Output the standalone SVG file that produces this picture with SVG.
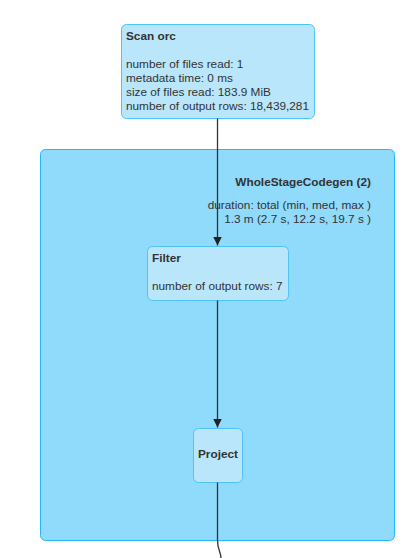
<svg xmlns="http://www.w3.org/2000/svg" width="403" height="558" viewBox="0 0 403 558">
<style>
.node rect{fill:#b9e6fb;stroke:#4fc3f7;stroke-width:1}
.cluster rect{fill:#90dafb;stroke:#29b6f6;stroke-width:1}
text{font-family:"Liberation Sans",Arial,sans-serif;font-size:11.8px;fill:#333}
.b{font-weight:bold}
.edge{fill:none;stroke:#333;stroke-width:1.3}
</style>
<defs>
<marker id="ah" viewBox="0 0 10 10" refX="10" refY="5" markerWidth="9" markerHeight="9" markerUnits="userSpaceOnUse" orient="auto">
<path d="M0,0 L10,5 L0,10 z" fill="#222"/>
</marker>
</defs>
<rect width="403" height="558" fill="#fff"/>
<g id="cluster-wsc" class="cluster">
<rect x="40.5" y="149.5" width="354" height="391" rx="5"/>
<text class="b" x="371" y="186" text-anchor="end">WholeStageCodegen (2)</text>
<text x="371" y="208.5" text-anchor="end">duration: total (min, med, max )</text>
<text x="371" y="222.5" text-anchor="end">1.3 m (2.7 s, 12.2 s, 19.7 s )</text>
</g>
<g id="node-scan" class="node">
<rect x="121.5" y="24.5" width="193" height="94" rx="5"/>
<text class="b" x="126" y="40">Scan orc</text>
<text x="126" y="68">number of files read: 1</text>
<text x="126" y="82">metadata time: 0 ms</text>
<text x="126" y="96">size of files read: 183.9 MiB</text>
<text x="126" y="110">number of output rows: 18,439,281</text>
</g>
<g id="node-filter" class="node">
<rect x="147.5" y="246.5" width="141" height="54" rx="5"/>
<text class="b" x="152" y="262">Filter</text>
<text x="152" y="290">number of output rows: 7</text>
</g>
<g id="node-project" class="node">
<rect x="193.5" y="428.5" width="49" height="54" rx="5"/>
<text class="b" x="218" y="458" text-anchor="middle">Project</text>
</g>
<g id="edges">
<path class="edge" d="M217.5,118.5 L217.5,245.5" marker-end="url(#ah)"/>
<path class="edge" d="M217.5,300.5 L217.5,427.5" marker-end="url(#ah)"/>
<path class="edge" d="M217.5,482.5 L217.5,540 C217.5,550 221,552 221,558"/>
</g>
</svg>
